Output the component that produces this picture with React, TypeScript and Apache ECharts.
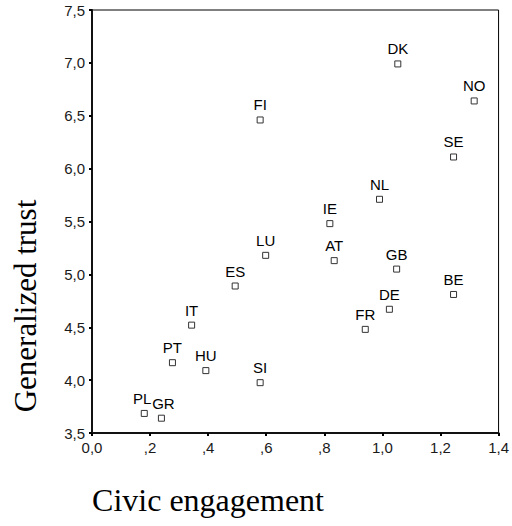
import React, { useEffect, useRef } from "react";
import * as echarts from "echarts";

const countries = ["DK", "NO", "SE", "FI", "NL", "IE", "LU", "AT", "GB", "ES", "BE", "DE", "IT", "FR", "PT", "HU", "SI", "PL", "GR"];
const civicEngagement = [1.053, 1.316, 1.245, 0.579, 0.99, 0.819, 0.598, 0.834, 1.049, 0.493, 1.245, 1.024, 0.343, 0.941, 0.277, 0.392, 0.579, 0.18, 0.239];
const generalizedTrust = [6.99, 6.64, 6.11, 6.46, 5.71, 5.48, 5.18, 5.13, 5.05, 4.89, 4.81, 4.67, 4.52, 4.48, 4.165, 4.09, 3.976, 3.685, 3.64];

const xTitle = "Civic engagement";
const yTitle = "Generalized trust";

function fmt(v: number): string {
  let s = v.toFixed(1).replace(".", ",");
  if (v > 0 && v < 1) s = s.substring(1);
  return s;
}

export default function App() {
  const ref = useRef<HTMLDivElement>(null);
  useEffect(() => {
    if (!ref.current) return;
    const chart = echarts.init(ref.current, undefined, { renderer: "svg" });
    const data = countries.map((c, i) => {
      const item: any = { name: c, value: [civicEngagement[i], generalizedTrust[i]] };
      if (c === "PL") item.label = { offset: [-2, 0] };
      if (c === "GR") item.label = { offset: [2, 0] };
      return item;
    });
    chart.setOption({
      animation: false,
      backgroundColor: "#fff",
      grid: {
        left: 92,
        right: 11,
        top: 10,
        bottom: 93,
        show: true,
        borderColor: "#000",
        borderWidth: 1,
        backgroundColor: "transparent",
      },
      xAxis: {
        type: "value",
        min: 0,
        max: 1.4,
        interval: 0.2,
        splitLine: { show: false },
        axisLine: { show: true, onZero: false, lineStyle: { color: "#111", width: 2 } },
        axisTick: { show: true, length: 3, lineStyle: { color: "#000", width: 2 } },
        axisLabel: {
          margin: 7,
          color: "#1a1a1a",
          fontFamily: "Arial",
          fontSize: 15,
          formatter: (v: number) => fmt(v),
        },
      },
      yAxis: {
        type: "value",
        min: 3.5,
        max: 7.5,
        interval: 0.5,
        splitLine: { show: false },
        axisLine: { show: true, onZero: false, lineStyle: { color: "#111", width: 2 } },
        axisTick: { show: true, length: 3, lineStyle: { color: "#000", width: 2 } },
        axisLabel: {
          margin: 7,
          color: "#1a1a1a",
          fontFamily: "Arial",
          fontSize: 15,
          formatter: (v: number) => fmt(v),
        },
      },
      series: [
        {
          type: "scatter",
          data,
          symbol: "rect",
          symbolSize: 6,
          itemStyle: { color: "#fff", borderColor: "#333", borderWidth: 1, opacity: 1 },
          label: {
            show: true,
            position: "top",
            distance: 4,
            formatter: (p: any) => p.name,
            color: "#000",
            fontFamily: "Arial",
            fontSize: 15,
          },
          emphasis: { disabled: true },
        },
      ],
      graphic: [
        {
          type: "text",
          x: 25,
          y: 306,
          rotation: Math.PI / 2,
          style: {
            text: yTitle,
            fontFamily: "Liberation Serif",
            fontSize: 31,
            fontWeight: "normal",
            fill: "#000",
            align: "center",
            verticalAlign: "middle",
          },
        },
        {
          type: "text",
          x: 208,
          y: 500,
          style: {
            text: xTitle,
            fontFamily: "Liberation Serif",
            fontSize: 32,
            fontWeight: "normal",
            fill: "#000",
            align: "center",
            verticalAlign: "middle",
          },
        },
      ],
    });
    return () => chart.dispose();
  }, []);
  return <div ref={ref} style={{ position: "fixed", left: 0, top: 0, width: 512, height: 526 }} />;
}
